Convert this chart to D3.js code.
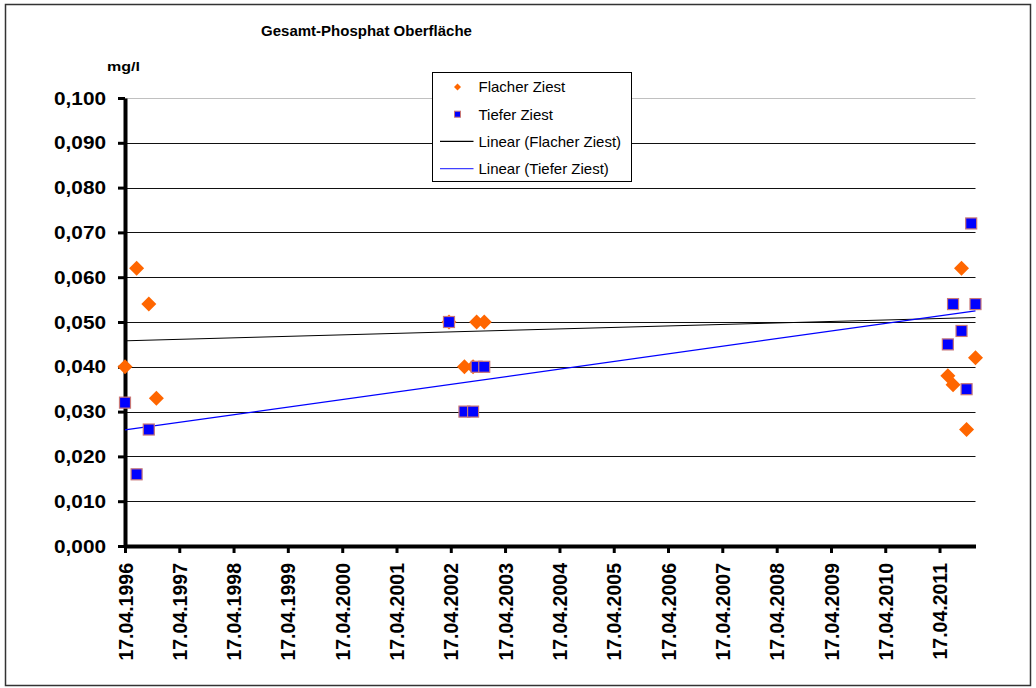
<!DOCTYPE html>
<html>
<head>
<meta charset="utf-8">
<script src="https://cdn.jsdelivr.net/npm/d3@7"></script>
<style>
  body { margin: 0; background: #fff; }
  svg { display: block; font-family: Arial, "Liberation Sans", sans-serif; }
</style>
</head>
<body>
<div id="chart"></div>
<script>
// values
const xTickLabels = ["17.04.1996", "17.04.1997", "17.04.1998", "17.04.1999", "17.04.2000",
  "17.04.2001", "17.04.2002", "17.04.2003", "17.04.2004", "17.04.2005", "17.04.2006",
  "17.04.2007", "17.04.2008", "17.04.2009", "17.04.2010", "17.04.2011"];
const yTicks = [0, 0.01, 0.02, 0.03, 0.04, 0.05, 0.06, 0.07, 0.08, 0.09, 0.1];

const flacherDates = ["17.04.1996", "04.07.1996", "24.09.1996", "14.11.1996",
  "05.04.2002", "18.07.2002", "14.09.2002", "08.10.2002", "28.11.2002",
  "12.06.2011", "17.07.2011", "12.09.2011", "16.10.2011", "15.12.2011"];
const flacherValues = [0.040, 0.062, 0.054, 0.033,
  0.050, 0.040, 0.040, 0.050, 0.050,
  0.038, 0.036, 0.062, 0.026, 0.042];

const tieferDates = ["17.04.1996", "04.07.1996", "24.09.1996",
  "05.04.2002", "18.07.2002", "14.09.2002", "08.10.2002", "28.11.2002",
  "12.06.2011", "17.07.2011", "12.09.2011", "16.10.2011", "16.11.2011", "15.12.2011"];
const tieferValues = [0.032, 0.016, 0.026,
  0.050, 0.030, 0.030, 0.040, 0.040,
  0.045, 0.054, 0.048, 0.035, 0.072, 0.054];

// Excel trend lines, start / end values
const trendDates = ["17.04.1996", "15.12.2011"];
const trendFlacher = [0.0458, 0.0510];
const trendTiefer = [0.0259, 0.0525];

const legendLabels = ["Flacher Ziest", "Tiefer Ziest", "Linear (Flacher Ziest)", "Linear (Tiefer Ziest)"];

const width = 1036, height = 688;
const margin = { left: 125, right: 60.5, top: 98, bottom: 142 };

const parse = d3.utcParse("%d.%m.%Y");
const de = d3.formatLocale({ decimal: ",", thousands: ".", grouping: [3], currency: ["", " €"] });
const fmt = de.format(".3f");

const svg = d3.select("#chart").append("svg")
  .attr("width", width)
  .attr("height", height);

svg.append("rect")
  .attr("width", width).attr("height", height)
  .attr("fill", "#fff");

// outer frame
svg.append("rect")
  .attr("x", 5.5).attr("y", 4.5)
  .attr("width", 1025).attr("height", 681)
  .attr("fill", "none")
  .attr("stroke", "#333")
  .attr("stroke-width", 1.5);

const x = d3.scaleUtc()
  .domain([parse(trendDates[0]), parse(trendDates[1])])
  .range([margin.left, width - margin.right]);

const y = d3.scaleLinear()
  .domain([0, 0.1])
  .range([height - margin.bottom, margin.top]);

// title
svg.append("text")
  .attr("x", 366.5).attr("y", 36)
  .attr("text-anchor", "middle")
  .style("font-size", "15px").style("font-weight", "bold")
  .text("Gesamt-Phosphat Oberfläche");

svg.append("text")
  .attr("x", 123.5).attr("y", 70.5)
  .attr("text-anchor", "middle")
  .attr("textLength", 33).attr("lengthAdjust", "spacingAndGlyphs")
  .style("font-size", "12px").style("font-weight", "bold")
  .text("mg/l");

// gridlines
svg.append("g")
  .selectAll("line")
  .data(yTicks.filter(d => d > 0))
  .join("line")
  .attr("x1", margin.left).attr("x2", width - margin.right)
  .attr("y1", d => Math.round(y(d)) + 0.5)
  .attr("y2", d => Math.round(y(d)) + 0.5)
  .attr("stroke", d => d === 0.1 ? "#c0c0c0" : "#111")
  .attr("stroke-width", 1);

// axes
const yAxis = svg.append("g")
  .attr("transform", `translate(${margin.left},0)`)
  .call(d3.axisLeft(y).tickValues(yTicks).tickSize(7).tickSizeOuter(0).tickPadding(12).tickFormat(fmt));
yAxis.select(".domain").attr("stroke", "#000").attr("stroke-width", 4);
yAxis.selectAll(".tick line").attr("stroke", "#000").attr("stroke-width", 3);
yAxis.selectAll(".tick text")
  .attr("fill", "#000")
  .attr("textLength", 52).attr("lengthAdjust", "spacingAndGlyphs")
  .style("font-size", "19px").style("font-weight", "bold")
  .style("font-family", "Arial, 'Liberation Sans', sans-serif");

const xAxis = svg.append("g")
  .attr("transform", `translate(0,${height - margin.bottom})`)
  .call(d3.axisBottom(x).tickValues(xTickLabels.map(parse)).tickSize(7).tickSizeOuter(0)
    .tickFormat(d3.utcFormat("%d.%m.%Y")));
xAxis.select(".domain").attr("stroke", "#000").attr("stroke-width", 4);
xAxis.selectAll(".tick line").attr("stroke", "#000").attr("stroke-width", 3);
xAxis.selectAll(".tick text")
  .attr("fill", "#000")
  .attr("transform", "rotate(-90)")
  .attr("x", -17).attr("y", 0).attr("dy", "0.36em")
  .attr("text-anchor", "end")
  .style("font-size", "19.5px").style("font-weight", "bold")
  .style("font-family", "Arial, 'Liberation Sans', sans-serif");

// trend lines
const line = d3.line().x(d => x(d[0])).y(d => y(d[1]));
const trendDatesParsed = trendDates.map(parse);
svg.append("path")
  .datum(trendDatesParsed.map((d, i) => [d, trendFlacher[i]]))
  .attr("d", line).attr("fill", "none").attr("stroke", "#000").attr("stroke-width", 1);
svg.append("path")
  .datum(trendDatesParsed.map((d, i) => [d, trendTiefer[i]]))
  .attr("d", line).attr("fill", "none").attr("stroke", "#0000ff").attr("stroke-width", 1.2);

// markers
const diamond = s => `M0,${-s}L${s},0L0,${s}L${-s},0Z`;

svg.append("g")
  .selectAll("path")
  .data(flacherDates.map((d, i) => ({ date: parse(d), value: flacherValues[i] })))
  .join("path")
  .attr("transform", d => `translate(${x(d.date)},${y(d.value)})`)
  .attr("d", diamond(7.5))
  .attr("fill", "#ff6600");

svg.append("g")
  .selectAll("rect")
  .data(tieferDates.map((d, i) => ({ date: parse(d), value: tieferValues[i] })))
  .join("rect")
  .attr("x", d => x(d.date) - 5.5)
  .attr("y", d => y(d.value) - 5.5)
  .attr("width", 11).attr("height", 11)
  .attr("fill", "#0000ff")
  .attr("stroke", "#c87878")
  .attr("stroke-width", 1.2);

// legend
const legend = svg.append("g").attr("transform", "translate(432.5,72.5)");
legend.append("rect")
  .attr("width", 199).attr("height", 109)
  .attr("fill", "#fff").attr("stroke", "#000").attr("stroke-width", 1);

const rows = legend.selectAll("g.row")
  .data(legendLabels)
  .join("g")
  .attr("class", "row")
  .attr("transform", (d, i) => `translate(0,${14.5 + i * 27.2})`);

rows.append("text")
  .attr("x", 46).attr("dy", "0.36em")
  .style("font-size", "15px")
  .attr("fill", "#000")
  .text(d => d);

rows.filter((d, i) => i === 0).append("path")
  .attr("transform", "translate(25,0)")
  .attr("d", diamond(3.5)).attr("fill", "#ff6600");
rows.filter((d, i) => i === 1).append("rect")
  .attr("x", 22).attr("y", -3).attr("width", 6).attr("height", 6)
  .attr("fill", "#0000ff").attr("stroke", "#c87878").attr("stroke-width", 1);
rows.filter((d, i) => i >= 2).append("line")
  .attr("x1", 7.5).attr("x2", 41)
  .attr("stroke", (d, i) => i === 0 ? "#000" : "#4040ff")
  .attr("stroke-width", 1.3);
</script>
</body>
</html>
